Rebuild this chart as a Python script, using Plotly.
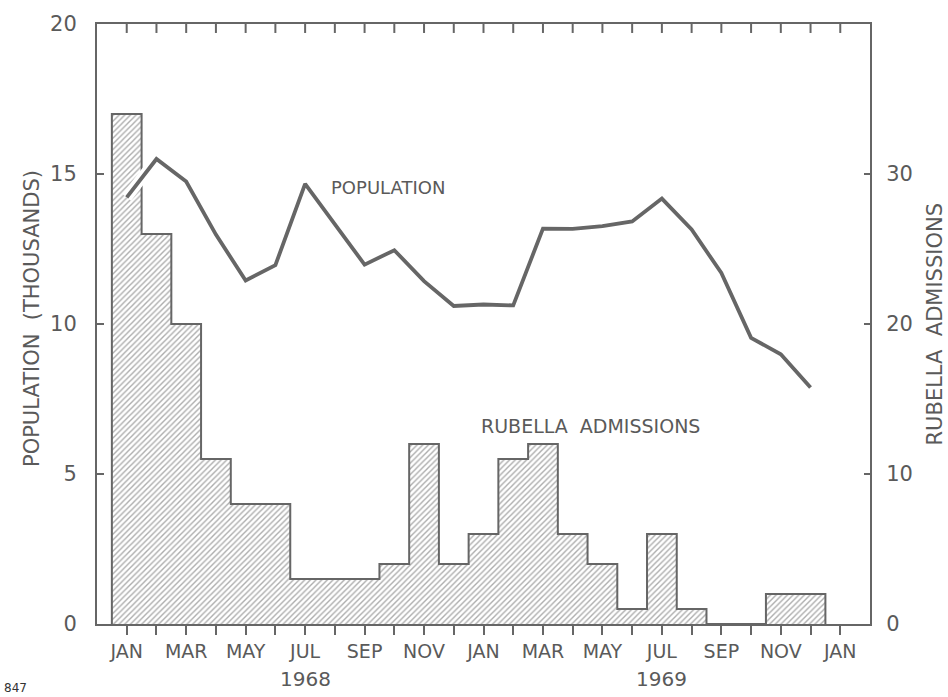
import plotly.graph_objects as go

# ---- data ----
month_idx = list(range(24))  # Jan 1968 .. Dec 1969
tick_idx = list(range(25))   # Jan 1968 .. Jan 1970
month_labels = ["JAN", "", "MAR", "", "MAY", "", "JUL", "", "SEP", "", "NOV", "",
                "JAN", "", "MAR", "", "MAY", "", "JUL", "", "SEP", "", "NOV", "", "JAN"]
population = [14.22, 15.5, 14.75, 12.98, 11.45, 11.96, 14.67, 13.31, 11.98, 12.46, 11.43, 10.6,
              10.65, 10.62, 13.18, 13.17, 13.26, 13.42, 14.18, 13.15, 11.7, 9.54, 8.99, 7.88]
rubella = [34, 26, 20, 11, 8, 8, 3, 3, 3, 4, 12, 4,
           6, 11, 12, 6, 4, 1, 6, 1, 0, 0, 2, 2]
years = ["1968", "1969"]
year_pos = [6, 18]

GREY = "#666666"
TEXT = "#5a5a5a"
FONT = "DejaVu Sans"
PLOT_H = 697 - 22 - 73

fig = go.Figure()

# hatched histogram bars (right axis, primary y)
fig.add_trace(go.Bar(
    x=month_idx, y=rubella, width=1, xaxis="x", yaxis="y",
    marker=dict(color="white",
                pattern=dict(shape="/", fgcolor="#5c5c5c", bgcolor="white", size=4, solidity=0.35),
                line=dict(width=0)),
    showlegend=False, hoverinfo="skip"))

# step outline of histogram
edge_x = [month_idx[0] - 0.5] + [m - 0.5 for m in month_idx] + [month_idx[-1] + 0.5]
edge_y = [0] + rubella + [0]
fig.add_trace(go.Scatter(x=edge_x, y=edge_y, mode="lines", line=dict(shape="hv", color=GREY, width=2),
                         xaxis="x", yaxis="y", showlegend=False, hoverinfo="skip"))

# population line with white halo (left axis, overlay y2)
fig.add_trace(go.Scatter(x=month_idx, y=population, mode="lines", line=dict(color="white", width=11),
                         xaxis="x", yaxis="y2", showlegend=False, hoverinfo="skip"))
fig.add_trace(go.Scatter(x=month_idx, y=population, mode="lines", line=dict(color=GREY, width=3.8),
                         xaxis="x", yaxis="y2", showlegend=False, hoverinfo="skip"))

xr = [-1, 25]
fig.update_layout(
    width=948, height=697, autosize=False,
    margin=dict(l=97, r=78, t=22, b=73),
    paper_bgcolor="white", plot_bgcolor="white",
    font=dict(family=FONT, color=TEXT, size=19),
    bargap=0,
    xaxis=dict(range=xr, tickmode="array", tickvals=tick_idx, ticktext=month_labels,
               ticks="outside", ticklen=9, tickwidth=2, tickcolor=GREY,
               showline=True, linewidth=2, linecolor=GREY, mirror=True,
               showgrid=False, zeroline=False, tickfont=dict(size=19, color=TEXT)),
    yaxis=dict(range=[0, 40], side="right", tickmode="array", tickvals=[0, 10, 20, 30],
               ticks="inside", ticklen=6, tickwidth=2, tickcolor=GREY,
               showline=True, linewidth=2, linecolor=GREY, showgrid=False, zeroline=False,
               tickfont=dict(size=21, color=TEXT), ticklabelstandoff=10),
    yaxis2=dict(range=[0, 20], side="left", overlaying="y", anchor="x", tickmode="array",
                tickvals=[0, 5, 10, 15, 20], ticks="inside", ticklen=7, tickwidth=2, tickcolor=GREY,
                showline=True, linewidth=2, linecolor=GREY, showgrid=False, zeroline=False,
                tickfont=dict(size=21, color=TEXT), ticklabelstandoff=14),
)

# inward-pointing month ticks along the top frame
shapes = []
for t in tick_idx:
    shapes.append(dict(type="line", xref="x", yref="paper", x0=t, x1=t, y0=1, y1=1 - 9 / PLOT_H,
                       line=dict(color=GREY, width=2)))
fig.update_layout(shapes=shapes)

ann = []
for yr, pos in zip(years, year_pos):
    ann.append(dict(x=pos, y=-0.0914, xref="x", yref="paper", text=yr, showarrow=False,
                    font=dict(size=20, color=TEXT), xanchor="center", yanchor="middle"))
ann.append(dict(x=8.8, y=14.55, xref="x", yref="y2", text="POPULATION", showarrow=False,
                font=dict(size=18, color=TEXT), xanchor="center", yanchor="middle"))
ann.append(dict(x=15.6, y=6.6, xref="x", yref="y2", text="RUBELLA&nbsp;&nbsp;ADMISSIONS", showarrow=False,
                font=dict(size=19, color=TEXT), xanchor="center", yanchor="middle"))
ann.append(dict(x=-0.0841, y=0.51, xref="paper", yref="paper", text="POPULATION&nbsp;&nbsp;(THOUSANDS)",
                showarrow=False, textangle=-90, font=dict(size=21, color=TEXT),
                xanchor="center", yanchor="middle"))
ann.append(dict(x=1.0847, y=0.5, xref="paper", yref="paper", text="RUBELLA&nbsp;&nbsp;ADMISSIONS",
                showarrow=False, textangle=-90, font=dict(size=21, color=TEXT),
                xanchor="center", yanchor="middle"))
ann.append(dict(x=-0.106, y=-0.106, xref="paper", yref="paper", text="847", showarrow=False,
                font=dict(size=12, color="#333333"), xanchor="center", yanchor="middle"))
fig.update_layout(annotations=ann)

fig.write_html("out.html")
